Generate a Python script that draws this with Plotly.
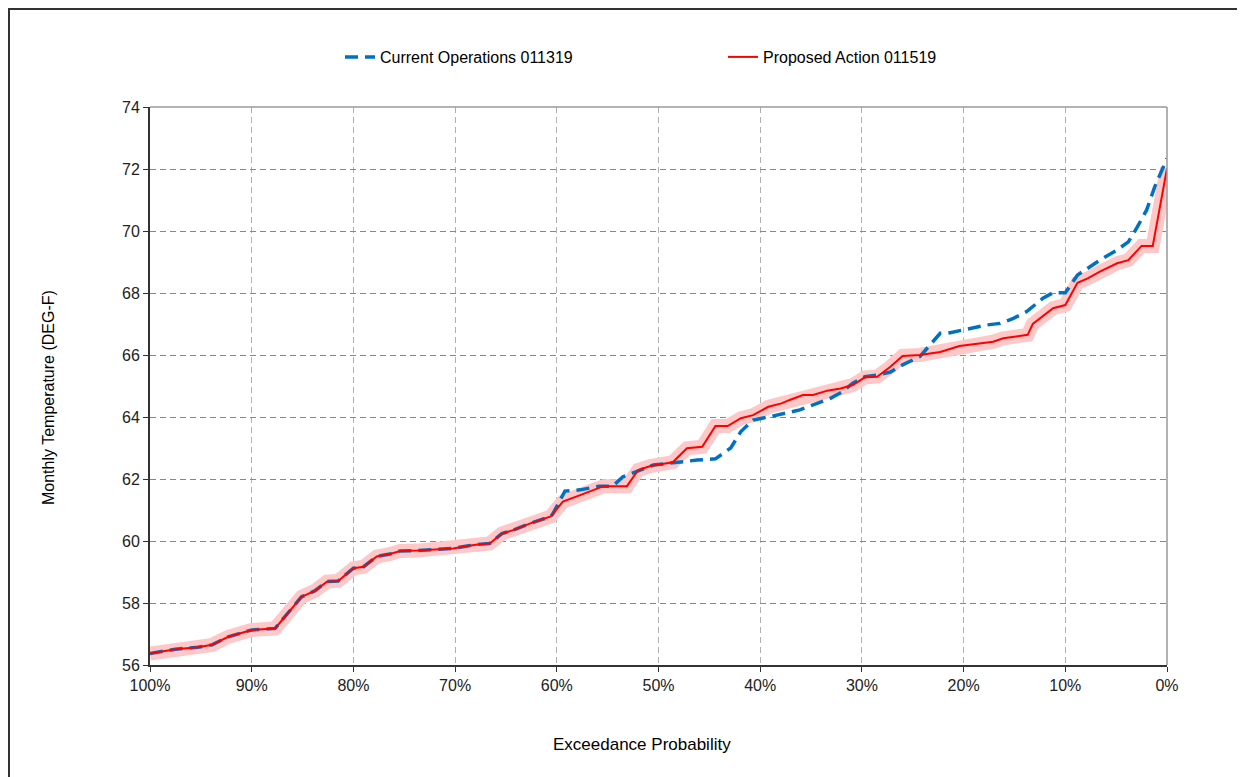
import plotly.graph_objects as go

# Exceedance probability (%) and monthly temperature (DEG-F)
proposed_prob = [100.0, 97.5, 95.3, 93.9, 92.3, 90.7, 90.0, 87.7, 85.1, 83.8, 82.6, 81.5,
                 80.0, 79.0, 77.7, 76.4, 75.4, 73.7, 72.5, 71.2, 70.2, 68.8, 67.8, 66.6,
                 65.4, 64.3, 62.6, 60.6, 60.4, 59.4, 57.7, 55.4, 53.1, 52.0, 50.8, 48.6,
                 47.2, 45.7, 44.4, 43.2, 41.9, 40.7, 39.2, 37.9, 37.1, 35.8, 34.8, 33.4,
                 32.1, 30.9, 29.7, 28.5, 27.2, 26.0, 24.3, 22.3, 20.4, 18.7, 17.1, 16.1,
                 14.7, 13.7, 13.2, 12.3, 11.2, 10.0, 8.8, 7.8, 6.6, 4.9, 3.8, 2.5, 1.4, 0.0]
proposed_temp = [56.37, 56.51, 56.57, 56.65, 56.91, 57.08, 57.13, 57.18, 58.20, 58.39, 58.69, 58.71,
                 59.12, 59.17, 59.50, 59.58, 59.68, 59.69, 59.72, 59.74, 59.76, 59.84, 59.89, 59.92,
                 60.24, 60.35, 60.57, 60.79, 60.87, 61.27, 61.48, 61.77, 61.77, 62.29, 62.42, 62.54,
                 62.99, 63.04, 63.71, 63.71, 63.96, 64.06, 64.33, 64.44, 64.55, 64.71, 64.71, 64.85,
                 64.92, 65.03, 65.28, 65.30, 65.62, 65.97, 66.00, 66.10, 66.29, 66.35, 66.43, 66.54,
                 66.61, 66.65, 67.00, 67.24, 67.51, 67.61, 68.33, 68.47, 68.69, 68.96, 69.06, 69.52, 69.52, 72.02]

current_prob = [100.0, 97.5, 95.3, 93.9, 92.3, 90.7, 90.0, 87.7, 85.1, 83.8, 82.6, 81.5,
                80.0, 79.0, 77.7, 76.4, 75.4, 73.7, 72.5, 71.2, 70.2, 68.8, 67.8, 66.6,
                65.4, 64.3, 62.6, 60.6, 60.4, 59.2, 57.7, 55.8, 54.5, 53.5, 52.1, 50.5,
                49.2, 47.9, 46.2, 44.4, 42.9, 41.9, 40.7, 39.2, 37.9, 36.1, 34.4, 33.1,
                31.9, 30.9, 29.7, 28.5, 27.2, 26.0, 24.3, 23.3, 22.3, 21.3, 19.7, 17.7,
                16.4, 15.1, 13.8, 12.2, 11.2, 10.0, 8.8, 7.8, 6.6, 4.9, 3.8, 2.9, 2.0, 1.2, 0.0]
current_temp = [56.37, 56.51, 56.57, 56.65, 56.91, 57.08, 57.13, 57.18, 58.20, 58.39, 58.69, 58.71,
                59.12, 59.17, 59.50, 59.58, 59.68, 59.69, 59.72, 59.74, 59.76, 59.84, 59.89, 59.92,
                60.24, 60.35, 60.57, 60.79, 60.87, 61.61, 61.65, 61.77, 61.77, 62.07, 62.24, 62.45,
                62.50, 62.56, 62.61, 62.65, 63.00, 63.53, 63.90, 64.00, 64.10, 64.23, 64.44, 64.60,
                64.82, 65.09, 65.30, 65.35, 65.45, 65.68, 65.95, 66.32, 66.70, 66.72, 66.83, 66.97,
                67.02, 67.18, 67.40, 67.83, 68.01, 68.01, 68.58, 68.80, 69.06, 69.39, 69.65, 70.14, 70.68, 71.43, 72.34]

x_tickvals = [100, 90, 80, 70, 60, 50, 40, 30, 20, 10, 0]
x_ticktext = ["100%", "90%", "80%", "70%", "60%", "50%", "40%", "30%", "20%", "10%", "0%"]
y_tickvals = [56, 58, 60, 62, 64, 66, 68, 70, 72, 74]

FONT = "Liberation Sans, Arial, sans-serif"

fig = go.Figure()
# pink glow under the proposed line
fig.add_trace(go.Scatter(x=proposed_prob, y=proposed_temp, mode="lines",
                         line=dict(color="rgb(255,200,200)", width=14),
                         showlegend=False, hoverinfo="skip"))
fig.add_trace(go.Scatter(x=current_prob, y=current_temp, mode="lines",
                         name="Current Operations 011319",
                         line=dict(color="rgb(0,112,192)", width=3.5, dash="13px,7px")))
fig.add_trace(go.Scatter(x=proposed_prob, y=proposed_temp, mode="lines",
                         name="Proposed Action 011519",
                         line=dict(color="rgb(255,0,0)", width=2)))

# page body has an 8px margin; screen positions are offset by OFF
OFF = 8
W, H = 1245 - OFF, 777 - OFF
PL, PR, PT, PB = 150 - OFF, 1167 - OFF, 107 - OFF, 665 - OFF  # plot box in figure px
L, R, T, B = PL, W - PR, PT, H - PB
pw, ph = PR - PL, PB - PT

def px_x(screen_x):
    return (screen_x - OFF - PL) / pw

def px_y(screen_y):
    return (PB - (screen_y - OFF)) / ph

fig.update_layout(
    width=W, height=H,
    margin=dict(l=L, r=R, t=T, b=B),
    paper_bgcolor="white", plot_bgcolor="white",
    font=dict(family=FONT, size=16, color="black"),
    legend=dict(orientation="h", xref="container", yref="container",
                x=332 / W, y=1 - 49 / H, xanchor="left", yanchor="middle",
                entrywidth=338, entrywidthmode="pixels",
                font=dict(family=FONT, size=16, color="black"),
                bgcolor="rgba(0,0,0,0)"),
    xaxis=dict(range=[100, 0], tickvals=x_tickvals, ticktext=x_ticktext,
               showgrid=True, gridcolor="#b0b0b0", gridwidth=1, griddash="6px,4px",
               showline=True, linecolor="#333333", linewidth=2,
               ticks="outside", ticklen=5, tickcolor="#333333", tickwidth=1,
               tickfont=dict(family=FONT, size=16, color="#222222"),
               zeroline=False),
    yaxis=dict(range=[56, 74], tickvals=y_tickvals,
               showgrid=True, gridcolor="#888888", gridwidth=1.2, griddash="6px,4px",
               showline=True, linecolor="#333333", linewidth=2,
               ticks="outside", ticklen=5, tickcolor="#333333", tickwidth=1,
               tickfont=dict(family=FONT, size=16, color="#222222"),
               zeroline=False),
    shapes=[
        # grey top/right frame of plot area
        dict(type="line", xref="paper", yref="paper", x0=0, x1=1, y0=1, y1=1,
             line=dict(color="#999999", width=1.5)),
        dict(type="line", xref="paper", yref="paper", x0=1, x1=1, y0=0, y1=1,
             line=dict(color="#999999", width=1.5)),
        # outer border of chart (top and left edges visible)
        dict(type="rect", xref="paper", yref="paper",
             x0=px_x(9), x1=px_x(1270), y0=px_y(800), y1=px_y(9),
             line=dict(color="#333333", width=2)),
    ],
    annotations=[
        dict(text="Exceedance Probability", xref="paper", yref="paper",
             x=px_x(642), y=px_y(744), xanchor="center", yanchor="middle",
             showarrow=False,
             font=dict(family=FONT, size=17, color="black")),
        dict(text="Monthly Temperature (DEG-F)", xref="paper", yref="paper",
             x=px_x(48), y=px_y(398), xanchor="center", yanchor="middle",
             showarrow=False, textangle=-90,
             font=dict(family=FONT, size=16, color="black")),
    ],
)

fig.write_html("out.html")
